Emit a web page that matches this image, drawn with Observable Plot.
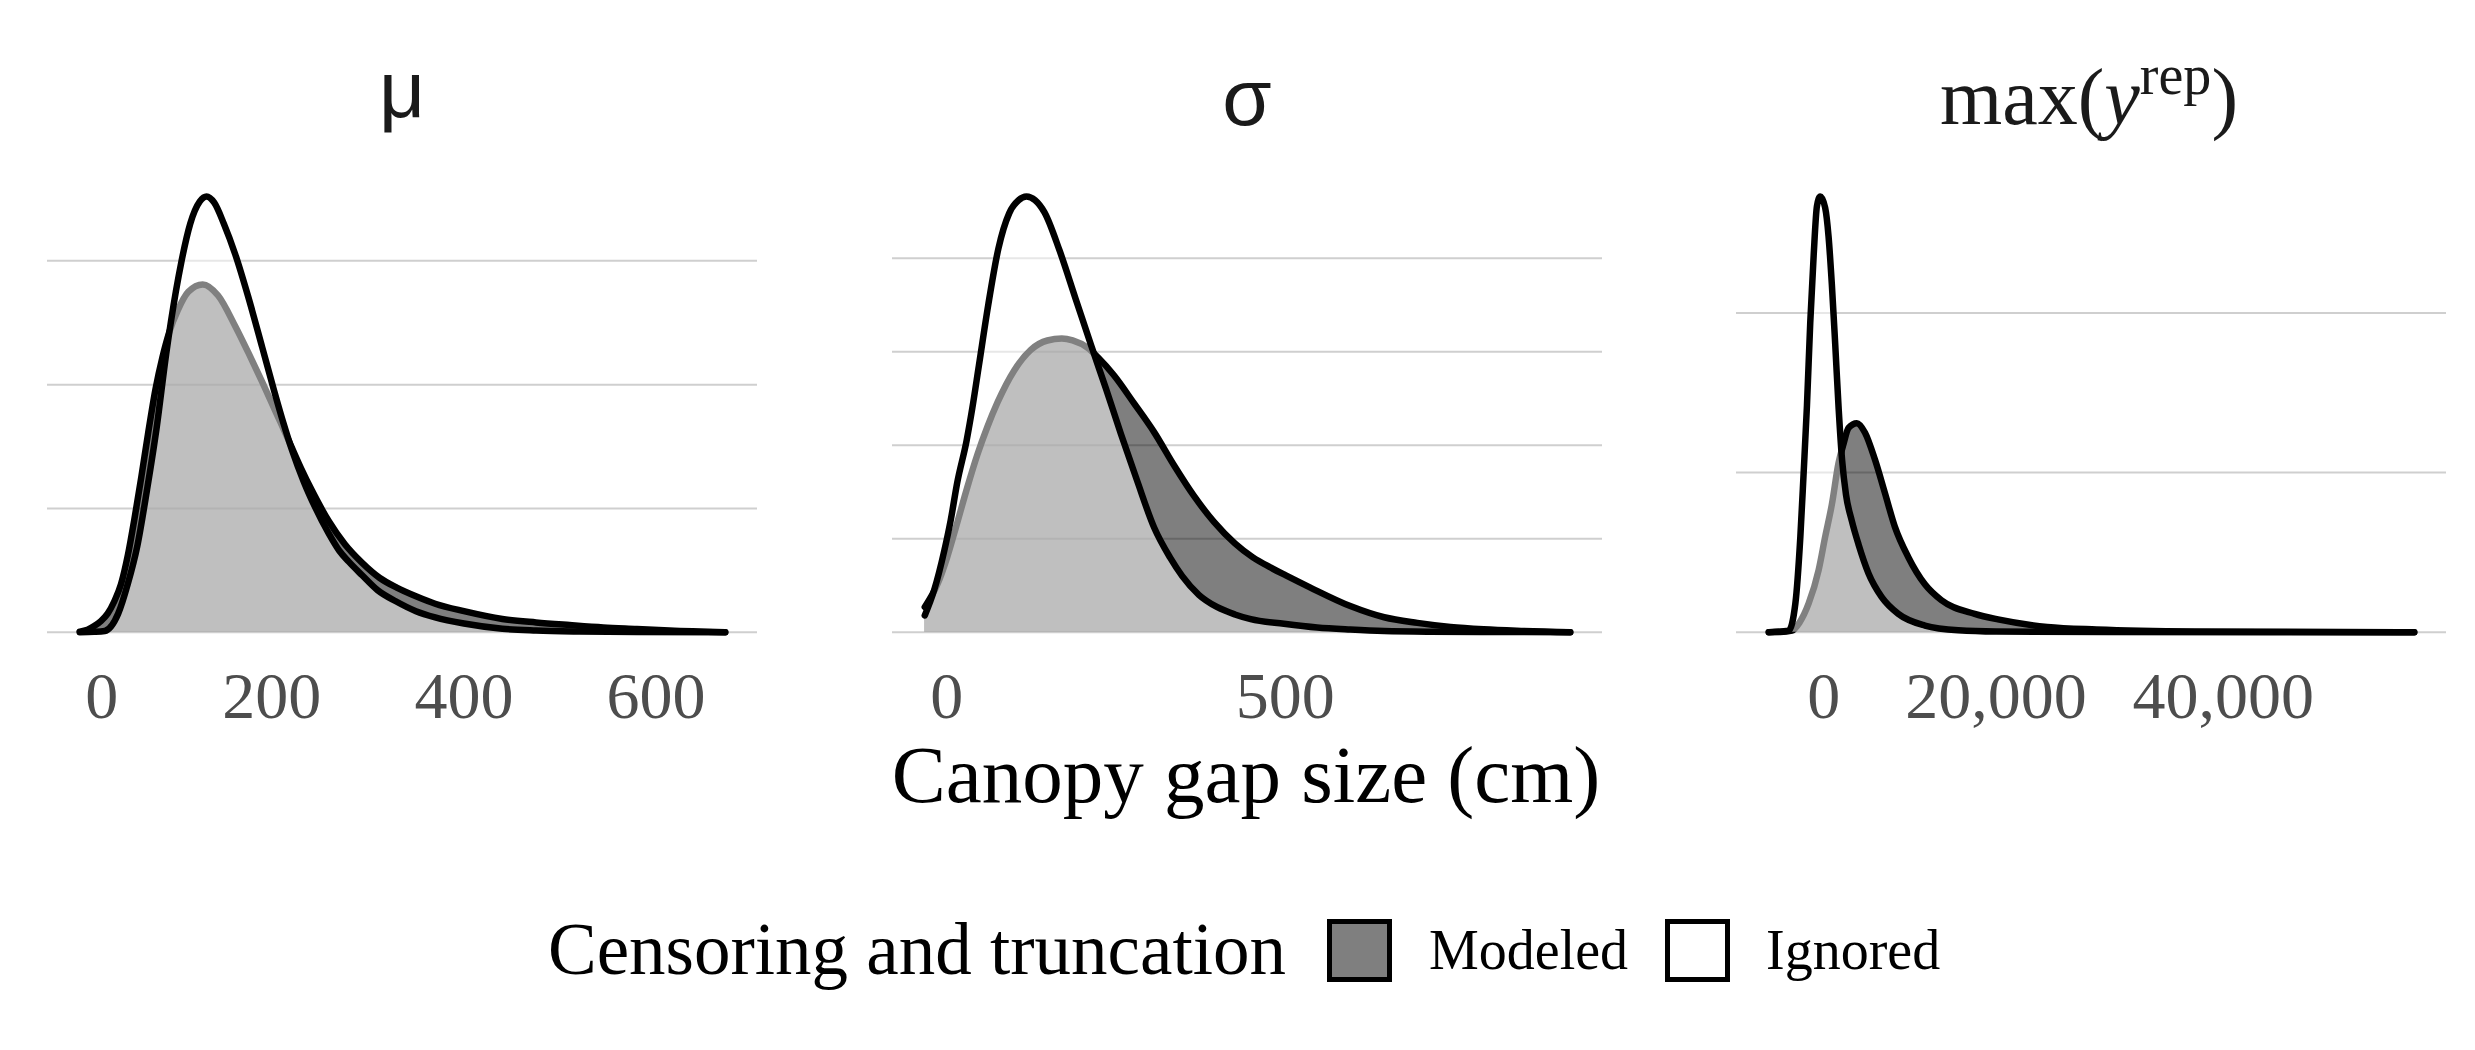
<!DOCTYPE html>
<html>
<head>
<meta charset="utf-8">
<script src="https://cdn.jsdelivr.net/npm/d3@7"></script>
<script src="https://cdn.jsdelivr.net/npm/@observablehq/plot@0.6"></script>
<style>
  html, body { margin: 0; padding: 0; background: #fff; }
  #root { position: relative; width: 2475px; height: 1050px; overflow: hidden; background: #fff; }
  .panel { position: absolute; top: 0; width: 710px; height: 750px; }
  .panel svg { max-width: none !important; }
  #overlay { position: absolute; left: 0; top: 0; }
</style>
</head>
<body>
<div id="root">
  <div id="p1" class="panel" style="left:46.5px"></div>
  <div id="p2" class="panel" style="left:891.5px"></div>
  <div id="p3" class="panel" style="left:1736px"></div>
  <svg id="overlay" width="2475" height="1050"></svg>
</div>
<script>
// ---------------- data ----------------
const groups = ["Modeled", "Ignored"];
const axisTitle = "Canopy gap size (cm)";
const legendTitle = "Censoring and truncation";

// Panel 1: mu  (density in units of 1e-3 per cm)
const muModeledX = [0, 8, 15, 22, 29, 36, 43, 50, 57, 64, 71, 79, 86, 93, 102, 113, 128, 144, 162, 176, 190, 204, 218, 230, 242, 259, 276, 294, 312, 330, 350, 370, 400, 440, 475, 510, 545, 580, 614, 672];
const muModeledD = [0.005, 0.02, 0.05, 0.09, 0.15, 0.25, 0.39, 0.62, 0.92, 1.25, 1.6, 1.97, 2.22, 2.42, 2.6, 2.75, 2.81, 2.72, 2.47, 2.25, 2.02, 1.78, 1.54, 1.33, 1.14, 0.9, 0.71, 0.56, 0.44, 0.36, 0.29, 0.23, 0.17, 0.107, 0.079, 0.058, 0.039, 0.026, 0.013, 0.0];
const muIgnoredX = [0, 15, 26, 40, 50, 60, 70, 80, 90, 100, 106, 115, 125, 132, 140, 150, 162, 175, 190, 202, 212, 221, 233, 245, 259, 270, 280, 294, 310, 329, 350, 370, 400, 440, 475, 520, 580, 672];
const muIgnoredD = [0, 0.003, 0.01, 0.15, 0.39, 0.7, 1.15, 1.65, 2.25, 2.75, 3.0, 3.3, 3.48, 3.52, 3.47, 3.3, 3.05, 2.72, 2.3, 1.96, 1.69, 1.47, 1.22, 1.01, 0.8, 0.66, 0.57, 0.46, 0.34, 0.25, 0.17, 0.12, 0.07, 0.028, 0.014, 0.006, 0.002, 0];
const muTicks = [0, 200, 400, 600];

// Panel 2: sigma  (density in units of 1e-3 per cm)
const sigmaModeledX = [0, 18, 31, 45, 59, 73, 87, 101, 124, 147, 170, 190, 205, 226, 240, 262, 290, 318, 346, 373, 401, 430, 455, 480, 500, 534, 590, 637, 683, 729, 775, 821, 895];
const sigmaModeledD = [0.27, 0.52, 0.8, 1.17, 1.55, 1.9, 2.2, 2.46, 2.8, 3.02, 3.12, 3.14, 3.12, 3.04, 2.94, 2.75, 2.45, 2.14, 1.78, 1.46, 1.18, 0.95, 0.8, 0.69, 0.61, 0.48, 0.28, 0.16, 0.1, 0.057, 0.032, 0.016, 0.0];
const sigmaIgnoredX = [0, 13, 27, 36, 45, 58, 66, 75, 88, 102, 117, 130, 141, 153, 166, 187, 209, 231, 251, 272, 294, 318, 340, 357, 380, 405, 430, 452, 498, 544, 590, 637, 700, 800, 895];
const sigmaIgnoredD = [0.18, 0.45, 0.87, 1.2, 1.6, 2.05, 2.4, 2.85, 3.5, 4.1, 4.48, 4.62, 4.66, 4.62, 4.49, 4.08, 3.57, 3.06, 2.61, 2.12, 1.63, 1.12, 0.8, 0.6, 0.4, 0.27, 0.19, 0.14, 0.09, 0.05, 0.028, 0.012, 0.005, 0.002, 0.0];
const sigmaTicks = [0, 500];

// Panel 3: max(y_rep)  (density in units of 1e-4 per cm)
const maxModeledX = [0, 1000, 2040, 2700, 3510, 4390, 4970, 5550, 6140, 6580, 7020, 7750, 8470, 9350, 10230, 11100, 12280, 13740, 15200, 18120, 20170, 24500, 28840, 37500, 56800];
const maxModeledD = [0, 0.001, 0.01, 0.06, 0.18, 0.39, 0.6, 0.8, 1.06, 1.18, 1.28, 1.31, 1.25, 1.08, 0.87, 0.66, 0.47, 0.3, 0.2, 0.115, 0.08, 0.033, 0.017, 0.005, 0];
const maxIgnoredX = [0, 1750, 2340, 2780, 3070, 3360, 3650, 3950, 4240, 4530, 4960, 5260, 5550, 5850, 6150, 6450, 6800, 7300, 7900, 8770, 9940, 11400, 13740, 16670, 20000, 30000, 56800];
const maxIgnoredD = [0, 0.01, 0.18, 0.6, 1.0, 1.42, 1.94, 2.36, 2.67, 2.73, 2.66, 2.48, 2.18, 1.8, 1.4, 1.08, 0.86, 0.7, 0.55, 0.37, 0.22, 0.115, 0.042, 0.012, 0.004, 0.001, 0];
const maxTicks = [0, 20000, 40000];

// ---------------- drawing ----------------
const SP = "\u2004"; // one third of an em, like the padded labels of the original

function panel(el, mod, ign, ticks, fmt) {
  const allX = mod.x.concat(ign.x);
  const x0 = d3.min(allX), x1 = d3.max(allX), pad = 0.05 * (x1 - x0);
  const ymax = d3.max(mod.d.concat(ign.d));
  const mRows = mod.x.map((x, i) => ({x, y: mod.d[i]}));
  const iRows = ign.x.map((x, i) => ({x, y: ign.d[i]}));
  const maxLen = d3.max(ticks, t => fmt(t).length);
  const tf = t => { const s = fmt(t); return SP.repeat(maxLen - s.length) + s; };
  const common = {x: "x", y: "y", curve: "monotone-x"};
  const lineOpts = {...common, stroke: "black", strokeWidth: 6.5, strokeLinecap: "round", strokeLinejoin: "round"};
  const svg = Plot.plot({
    width: 710, height: 750,
    marginLeft: 0, marginRight: 0, marginTop: 174.2, marginBottom: 96.5,
    x: {domain: [x0 - pad, x1 + pad], label: null},
    y: {domain: [-0.05 * ymax, 1.05 * ymax], axis: null},
    style: {background: "transparent", fontFamily: "'Liberation Serif', serif", color: "#4d4d4d", overflow: "visible"},
    marks: [
      Plot.gridY(d3.range(0, Math.floor(ymax) + 1), {stroke: "#cfcfcf", strokeOpacity: 1, strokeWidth: 2}),
      Plot.areaY(mRows, {...common, fill: "black", fillOpacity: 0.5}),
      Plot.lineY(mRows, lineOpts),
      Plot.areaY(iRows, {...common, fill: "white", fillOpacity: 0.5}),
      Plot.lineY(iRows, lineOpts),
      Plot.axisX(ticks, {tickSize: 0, tickPadding: 17.6, tickFormat: tf, fontSize: 66, color: "#4d4d4d", label: null})
    ]
  });
  el.append(svg);
}

const plain = d3.format("d");
const comma = d3.format(",");
panel(document.getElementById("p1"), {x: muModeledX, d: muModeledD}, {x: muIgnoredX, d: muIgnoredD}, muTicks, plain);
panel(document.getElementById("p2"), {x: sigmaModeledX, d: sigmaModeledD}, {x: sigmaIgnoredX, d: sigmaIgnoredD}, sigmaTicks, plain);
panel(document.getElementById("p3"), {x: maxModeledX, d: maxModeledD}, {x: maxIgnoredX, d: maxIgnoredD}, maxTicks, comma);

// ---------------- titles, axis title, legend ----------------
const ov = d3.select("#overlay");
const serif = "'Liberation Serif', serif";
const sans = "'Liberation Sans', Arial, sans-serif";

ov.append("text").attr("x", 402).attr("y", 117).attr("text-anchor", "middle")
  .attr("font-family", sans).attr("font-size", 80).attr("fill", "#1a1a1a").text("μ");
ov.append("text").attr("x", 1247).attr("y", 125).attr("text-anchor", "middle")
  .attr("font-family", sans).attr("font-size", 80).attr("fill", "#1a1a1a").text("σ");
const t3 = ov.append("text").attr("x", 2089).attr("y", 124).attr("text-anchor", "middle")
  .attr("font-family", serif).attr("font-size", 80).attr("fill", "#1a1a1a");
t3.append("tspan").text("max(");
t3.append("tspan").attr("font-style", "italic").text("y");
t3.append("tspan").attr("font-size", 56).attr("dy", -30).text("rep");
t3.append("tspan").attr("dy", 30).text(")");

ov.append("text").attr("x", 1246).attr("y", 802).attr("text-anchor", "middle")
  .attr("font-family", serif).attr("font-size", 81).attr("fill", "#000").text(axisTitle);

ov.append("text").attr("x", 548).attr("y", 974)
  .attr("font-family", serif).attr("font-size", 73).attr("fill", "#000").text(legendTitle);

const keyX = [1327, 1665];
const labX = [1429, 1766];
const keyFill = [{fill: "black", op: 0.5}, {fill: "white", op: 0.5}];
groups.forEach((g, i) => {
  ov.append("rect").attr("x", keyX[i] + 2.5).attr("y", 921.5).attr("width", 60).attr("height", 58)
    .attr("fill", keyFill[i].fill).attr("fill-opacity", keyFill[i].op)
    .attr("stroke", "black").attr("stroke-width", 5);
  ov.append("text").attr("x", labX[i]).attr("y", 969)
    .attr("font-family", serif).attr("font-size", 56).attr("fill", "#000").text(g);
});
</script>
</body>
</html>
